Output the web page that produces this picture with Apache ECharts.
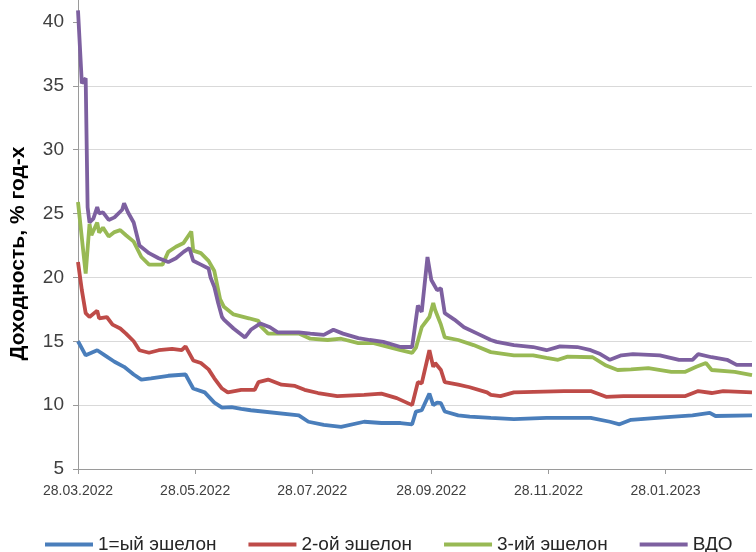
<!DOCTYPE html>
<html>
<head>
<meta charset="utf-8">
<script src="https://cdn.jsdelivr.net/npm/echarts@6/dist/echarts.min.js"></script>
<style>
html,body{margin:0;padding:0;background:#fff;}
#chart{width:756px;height:552px;}
</style>
</head>
<body>
<div id="chart"></div>
<script>
// ---- data ----
const seriesNames = ['1=ый эшелон', '2-ой эшелон', '3-ий эшелон', 'ВДО'];
const tickDates = ['2022-03-28', '2022-05-28', '2022-07-28', '2022-09-28', '2022-11-28', '2023-01-28'];
const xEndDate = '2023-03-14';
const yTicks = [5, 10, 15, 20, 25, 30, 35, 40];
const yTop = 41.72;

const blueDates = ['2022-03-28','2022-04-01','2022-04-07','2022-04-11','2022-04-16','2022-04-21','2022-04-26','2022-04-30','2022-05-05','2022-05-14','2022-05-23','2022-05-27','2022-06-02','2022-06-07','2022-06-11','2022-06-16','2022-06-21','2022-06-26','2022-07-21','2022-07-26','2022-08-03','2022-08-12','2022-08-24','2022-09-02','2022-09-12','2022-09-18','2022-09-20','2022-09-23','2022-09-27','2022-09-29','2022-10-01','2022-10-03','2022-10-05','2022-10-12','2022-10-18','2022-10-29','2022-11-10','2022-11-27','2022-12-20','2022-12-30','2023-01-04','2023-01-10','2023-01-27','2023-02-11','2023-02-20','2023-02-23','2023-03-14'];
const blueValues = [15.0,13.9,14.3,13.9,13.4,13.0,12.4,12.0,12.1,12.3,12.4,11.3,11.0,10.2,9.8,9.85,9.7,9.6,9.2,8.7,8.45,8.3,8.7,8.6,8.6,8.5,9.5,9.6,10.9,10.0,10.2,10.15,9.5,9.2,9.1,9.0,8.9,9.0,9.0,8.7,8.5,8.85,9.05,9.2,9.4,9.15,9.2];

const redDates = ['2022-03-28','2022-03-30','2022-04-01','2022-04-03','2022-04-07','2022-04-08','2022-04-12','2022-04-15','2022-04-19','2022-04-22','2022-04-26','2022-04-29','2022-05-04','2022-05-09','2022-05-16','2022-05-21','2022-05-23','2022-05-27','2022-05-31','2022-06-04','2022-06-07','2022-06-11','2022-06-14','2022-06-21','2022-06-28','2022-06-30','2022-07-05','2022-07-12','2022-07-19','2022-07-24','2022-07-31','2022-08-10','2022-08-24','2022-09-02','2022-09-10','2022-09-18','2022-09-21','2022-09-23','2022-09-27','2022-09-29','2022-09-30','2022-10-03','2022-10-05','2022-10-12','2022-10-18','2022-10-27','2022-10-29','2022-11-03','2022-11-10','2022-12-06','2022-12-20','2022-12-28','2023-01-06','2023-02-07','2023-02-14','2023-02-21','2023-02-27','2023-03-14'];
const redValues = [21.2,19.0,17.2,16.9,17.4,16.8,16.9,16.3,16.0,15.6,15.0,14.3,14.1,14.3,14.4,14.3,14.6,13.5,13.3,12.8,12.1,11.3,11.0,11.2,11.2,11.8,12.0,11.6,11.5,11.2,10.95,10.7,10.8,10.9,10.55,10.0,11.8,11.7,14.3,13.0,13.3,12.75,11.8,11.6,11.4,11.0,10.8,10.7,11.0,11.1,11.1,10.65,10.7,10.7,11.1,10.95,11.1,11.0];

const greenDates = ['2022-03-28','2022-03-29','2022-04-01','2022-04-03','2022-04-04','2022-04-07','2022-04-08','2022-04-10','2022-04-13','2022-04-16','2022-04-19','2022-04-22','2022-04-26','2022-04-30','2022-05-04','2022-05-11','2022-05-14','2022-05-18','2022-05-22','2022-05-26','2022-05-27','2022-05-31','2022-06-04','2022-06-07','2022-06-10','2022-06-12','2022-06-17','2022-06-25','2022-06-30','2022-07-01','2022-07-05','2022-07-12','2022-07-21','2022-07-27','2022-08-05','2022-08-12','2022-08-21','2022-08-29','2022-09-02','2022-09-12','2022-09-18','2022-09-20','2022-09-23','2022-09-27','2022-09-29','2022-09-30','2022-10-03','2022-10-05','2022-10-12','2022-10-20','2022-10-29','2022-11-10','2022-11-20','2022-11-27','2022-12-03','2022-12-08','2022-12-21','2022-12-28','2023-01-03','2023-01-10','2023-01-19','2023-01-31','2023-02-07','2023-02-13','2023-02-18','2023-02-21','2023-03-05','2023-03-14'];
const greenValues = [25.9,24.5,20.3,24.2,23.3,24.3,23.5,23.9,23.2,23.55,23.7,23.3,22.8,21.6,21.0,21.0,22.0,22.4,22.7,23.6,22.1,21.9,21.3,20.5,18.3,17.7,17.1,16.8,16.6,16.2,15.6,15.6,15.6,15.2,15.1,15.2,14.85,14.85,14.7,14.3,14.1,14.5,16.1,16.9,18.0,17.45,16.3,15.3,15.1,14.7,14.15,13.9,13.9,13.7,13.55,13.8,13.75,13.1,12.75,12.8,12.9,12.6,12.6,13.0,13.3,12.75,12.6,12.35];

const purpleDates = ['2022-03-28','2022-03-30','2022-04-01','2022-04-02','2022-04-03','2022-04-05','2022-04-07','2022-04-08','2022-04-10','2022-04-13','2022-04-16','2022-04-20','2022-04-21','2022-04-23','2022-04-26','2022-04-29','2022-05-04','2022-05-09','2022-05-14','2022-05-18','2022-05-22','2022-05-25','2022-05-27','2022-05-31','2022-06-04','2022-06-05','2022-06-07','2022-06-09','2022-06-11','2022-06-12','2022-06-17','2022-06-23','2022-06-26','2022-07-01','2022-07-06','2022-07-10','2022-07-21','2022-07-27','2022-08-03','2022-08-08','2022-08-13','2022-08-21','2022-08-27','2022-09-03','2022-09-12','2022-09-18','2022-09-21','2022-09-23','2022-09-26','2022-09-28','2022-09-29','2022-10-01','2022-10-03','2022-10-05','2022-10-10','2022-10-15','2022-10-22','2022-10-29','2022-11-01','2022-11-10','2022-11-20','2022-11-27','2022-12-04','2022-12-13','2022-12-20','2022-12-25','2022-12-30','2023-01-05','2023-01-11','2023-01-25','2023-02-04','2023-02-11','2023-02-14','2023-02-21','2023-03-01','2023-03-06','2023-03-14'];
const purpleValues = [40.9,35.2,35.6,25.5,24.3,24.6,25.5,25.0,25.1,24.5,24.7,25.3,25.8,25.1,24.3,22.5,21.9,21.5,21.2,21.5,22.0,22.3,21.3,21.0,20.7,20.0,19.25,18.0,16.9,16.7,16.0,15.3,15.9,16.4,16.1,15.7,15.7,15.6,15.5,15.9,15.6,15.25,15.1,14.95,14.55,14.55,17.8,17.3,21.6,19.8,19.8,19.0,19.15,17.2,16.7,16.1,15.6,15.1,14.95,14.7,14.55,14.3,14.6,14.55,14.3,14.0,13.55,13.9,14.0,13.9,13.55,13.55,14.0,13.75,13.55,13.15,13.15];

const colors = ['#4A7EBB', '#BE4B48', '#98B954', '#7D60A0'];

// ---- build ----
function ts(s) { const p = s.split('-').map(Number); return new Date(p[0], p[1] - 1, p[2]).getTime(); }
function pairs(d, v) { return d.map((x, i) => [ts(x), v[i]]); }
const allData = [pairs(blueDates, blueValues), pairs(redDates, redValues), pairs(greenDates, greenValues), pairs(purpleDates, purpleValues)];
const tickTimes = tickDates.map(ts);
function pad(n) { return (n < 10 ? '0' : '') + n; }

const chart = echarts.init(document.getElementById('chart'), null, {renderer: 'canvas'});
chart.setOption({
  animation: false,
  backgroundColor: '#fff',
  color: colors,
  textStyle: {fontFamily: 'Liberation Sans, Arial, sans-serif'},
  grid: {left: 76, right: 4, top: 0, bottom: 83, containLabel: false},
  xAxis: {
    type: 'value',
    min: tickTimes[0],
    max: ts(xEndDate),
    axisLine: {show: true, lineStyle: {color: '#9a9a9a', width: 1}},
    axisTick: {show: true, length: 5, lineStyle: {color: '#9a9a9a'}, customValues: tickTimes},
    splitLine: {show: false},
    axisLabel: {
      customValues: tickTimes,
      margin: 15,
      fontSize: 14,
      color: '#404040',
      formatter: function (v) {
        const d = new Date(v);
        return pad(d.getDate()) + '.' + pad(d.getMonth() + 1) + '.' + d.getFullYear();
      }
    }
  },
  yAxis: {
    type: 'value',
    min: yTicks[0],
    max: yTop,
    interval: 5,
    name: 'Доходность, % год-х',
    nameLocation: 'middle',
    nameGap: 49,
    nameTextStyle: {fontSize: 21, fontWeight: 'bold', color: '#000', padding: [0, 38, 0, 0]},
    axisLine: {show: true, lineStyle: {color: '#9a9a9a', width: 1}},
    axisTick: {show: true, length: 5, lineStyle: {color: '#9a9a9a'}, customValues: yTicks},
    splitLine: {show: true, showMaxLine: false, lineStyle: {color: '#d9d9d9', width: 1}},
    axisLabel: {fontSize: 19, color: '#404040', margin: 14, customValues: yTicks}
  },
  legend: {
    left: 40,
    top: 530,
    icon: 'rect',
    itemWidth: 48,
    itemHeight: 4,
    itemGap: 32,
    textStyle: {fontSize: 19, color: '#262626'},
    data: seriesNames
  },
  series: seriesNames.map((n, i) => ({
    name: n,
    type: 'line',
    data: allData[i],
    symbol: 'none',
    showSymbol: false,
    lineStyle: {width: 3.8, color: colors[i]},
    itemStyle: {color: colors[i]},
    z: 2 + i
  }))
});
</script>
</body>
</html>
